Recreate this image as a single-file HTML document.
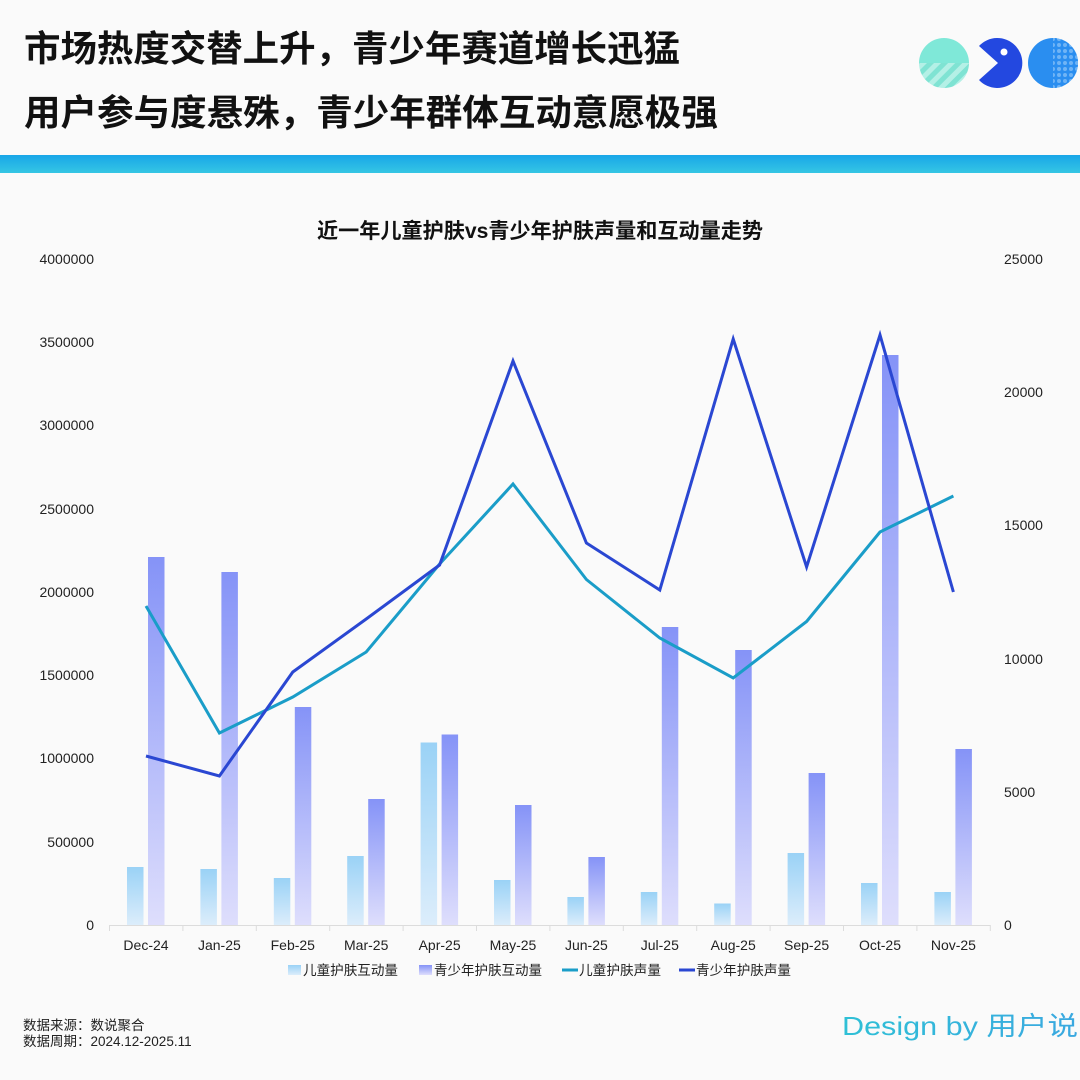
<!DOCTYPE html>
<html><head><meta charset="utf-8"><style>
html,body{margin:0;padding:0;background:#fafafa;}
svg{display:block;}
</style></head><body>
<svg width="1080" height="1080" viewBox="0 0 1080 1080" xmlns="http://www.w3.org/2000/svg">
<defs>
<linearGradient id="hb" x1="0" y1="0" x2="0" y2="1"><stop offset="0" stop-color="#18a6e8"/><stop offset="1" stop-color="#35c6e4"/></linearGradient>
<linearGradient id="lb" x1="0" y1="0" x2="0" y2="1"><stop offset="0" stop-color="#9ad2f6"/><stop offset="1" stop-color="#dcedfb"/></linearGradient>
<linearGradient id="pb" x1="0" y1="0" x2="0" y2="1"><stop offset="0" stop-color="#8593f7"/><stop offset="1" stop-color="#dedefc"/></linearGradient>
<linearGradient id="ds" x1="0" y1="0" x2="1" y2="0"><stop offset="0" stop-color="#2fc0d6"/><stop offset="1" stop-color="#3aa8e0"/></linearGradient>
<pattern id="stripe" width="10" height="10" patternUnits="userSpaceOnUse" patternTransform="rotate(45)"><rect width="10" height="10" fill="#b4f0e6"/><rect width="5" height="10" fill="#7fe3d3"/></pattern>
<pattern id="dots" width="6" height="6" patternUnits="userSpaceOnUse"><rect width="6" height="6" fill="#2a8ef0"/><circle cx="3" cy="3" r="2" fill="#6fb4f6"/></pattern>
<clipPath id="c1"><circle cx="944" cy="63" r="25"/></clipPath>
<clipPath id="c3"><circle cx="1053" cy="63" r="25"/></clipPath>
</defs>
<rect width="1080" height="1080" fill="#fafafa"/>

<!-- header -->
<g font-family="'Liberation Sans','Noto Sans CJK SC',sans-serif" font-weight="700" font-size="36" fill="#111">
<text x="24" y="61" textLength="656" lengthAdjust="spacingAndGlyphs">市场热度交替上升，青少年赛道增长迅猛</text>
<text x="24" y="125" textLength="694" lengthAdjust="spacingAndGlyphs">用户参与度悬殊，青少年群体互动意愿极强</text>
</g>
<!-- icons -->
<g clip-path="url(#c1)"><rect x="919" y="38" width="50" height="25" fill="#7fe8d8"/><rect x="919" y="63" width="50" height="25" fill="url(#stripe)"/></g>
<path d="M998 63 L979 46 A25 25 0 1 1 979 80 Z" fill="#2348e0"/>
<circle cx="1004" cy="52" r="3.5" fill="#fff"/>
<g clip-path="url(#c3)"><rect x="1028" y="38" width="50" height="50" fill="#2a8ef0"/><rect x="1053" y="38" width="26" height="50" fill="url(#dots)"/></g>

<rect x="0" y="155" width="1080" height="18" fill="url(#hb)"/>

<!-- chart title -->
<text x="540" y="238" text-anchor="middle" font-family="'Liberation Sans','Noto Sans CJK SC',sans-serif" font-weight="700" font-size="21" fill="#111" textLength="446" lengthAdjust="spacingAndGlyphs">近一年儿童护肤vs青少年护肤声量和互动量走势</text>

<!-- y labels -->
<g font-family="'Liberation Sans',sans-serif" font-size="14" fill="#222" text-anchor="end">
<text x="94" y="930">0</text>
<text x="94" y="847">500000</text>
<text x="94" y="763">1000000</text>
<text x="94" y="680">1500000</text>
<text x="94" y="597">2000000</text>
<text x="94" y="514">2500000</text>
<text x="94" y="430">3000000</text>
<text x="94" y="347">3500000</text>
<text x="94" y="264">4000000</text>
</g>
<g font-family="'Liberation Sans',sans-serif" font-size="14" fill="#222" text-anchor="start">
<text x="1004" y="930">0</text>
<text x="1004" y="797">5000</text>
<text x="1004" y="664">10000</text>
<text x="1004" y="530">15000</text>
<text x="1004" y="397">20000</text>
<text x="1004" y="264">25000</text>
</g>

<!-- bars -->
<g fill="url(#lb)">
<rect x="127" y="867" width="16.5" height="58"/>
<rect x="200.4" y="869" width="16.5" height="56"/>
<rect x="273.8" y="878" width="16.5" height="47"/>
<rect x="347.2" y="856" width="16.5" height="69"/>
<rect x="420.6" y="742.5" width="16.5" height="182.5"/>
<rect x="494" y="880" width="16.5" height="45"/>
<rect x="567.4" y="897" width="16.5" height="28"/>
<rect x="640.8" y="892" width="16.5" height="33"/>
<rect x="714.2" y="903.5" width="16.5" height="21.5"/>
<rect x="787.6" y="853" width="16.5" height="72"/>
<rect x="861" y="883" width="16.5" height="42"/>
<rect x="934.4" y="892" width="16.5" height="33"/>
</g>
<g fill="url(#pb)">
<rect x="148" y="557" width="16.5" height="368"/>
<rect x="221.4" y="572" width="16.5" height="353"/>
<rect x="294.8" y="707" width="16.5" height="218"/>
<rect x="368.2" y="799" width="16.5" height="126"/>
<rect x="441.6" y="734.5" width="16.5" height="190.5"/>
<rect x="515" y="805" width="16.5" height="120"/>
<rect x="588.4" y="857" width="16.5" height="68"/>
<rect x="661.8" y="627" width="16.5" height="298"/>
<rect x="735.2" y="650" width="16.5" height="275"/>
<rect x="808.6" y="773" width="16.5" height="152"/>
<rect x="882" y="355" width="16.5" height="570"/>
<rect x="955.4" y="749" width="16.5" height="176"/>
</g>

<!-- x axis -->
<g stroke="#dcdcdc" stroke-width="1">
<line x1="109" y1="925.5" x2="990" y2="925.5"/>
<line x1="109.5" y1="925" x2="109.5" y2="931"/>
<line x1="182.9" y1="925" x2="182.9" y2="931"/>
<line x1="256.3" y1="925" x2="256.3" y2="931"/>
<line x1="329.7" y1="925" x2="329.7" y2="931"/>
<line x1="403.1" y1="925" x2="403.1" y2="931"/>
<line x1="476.5" y1="925" x2="476.5" y2="931"/>
<line x1="549.9" y1="925" x2="549.9" y2="931"/>
<line x1="623.3" y1="925" x2="623.3" y2="931"/>
<line x1="696.7" y1="925" x2="696.7" y2="931"/>
<line x1="770.1" y1="925" x2="770.1" y2="931"/>
<line x1="843.5" y1="925" x2="843.5" y2="931"/>
<line x1="916.9" y1="925" x2="916.9" y2="931"/>
<line x1="990.3" y1="925" x2="990.3" y2="931"/>
</g>

<!-- lines -->
<polyline fill="none" stroke="#1a9dc8" stroke-width="3" stroke-linejoin="miter" points="146,606 219.4,733 292.8,697 366.2,652 439.6,564 513,484 586.4,579.5 659.8,638 733.2,678 806.6,621.5 880,532 953.4,496"/>
<polyline fill="none" stroke="#2a47d2" stroke-width="3" stroke-linejoin="miter" points="146,756 219.4,776 292.8,672 366.2,619 439.6,565 513,361 586.4,543 659.8,590 733.2,339 806.6,567 880,335 953.4,592"/>

<!-- x labels -->
<g font-family="'Liberation Sans',sans-serif" font-size="14" fill="#222" text-anchor="middle">
<text x="146" y="950">Dec-24</text>
<text x="219.4" y="950">Jan-25</text>
<text x="292.8" y="950">Feb-25</text>
<text x="366.2" y="950">Mar-25</text>
<text x="439.6" y="950">Apr-25</text>
<text x="513" y="950">May-25</text>
<text x="586.4" y="950">Jun-25</text>
<text x="659.8" y="950">Jul-25</text>
<text x="733.2" y="950">Aug-25</text>
<text x="806.6" y="950">Sep-25</text>
<text x="880" y="950">Oct-25</text>
<text x="953.4" y="950">Nov-25</text>
</g>

<!-- legend -->
<rect x="288" y="965" width="13" height="10" fill="url(#lb)"/>
<rect x="419" y="965" width="13" height="10" fill="url(#pb)"/>
<line x1="562" y1="970" x2="578" y2="970" stroke="#1a9dc8" stroke-width="3"/>
<line x1="679" y1="970" x2="695" y2="970" stroke="#2a47d2" stroke-width="3"/>
<g font-family="'Liberation Sans','Noto Sans CJK SC',sans-serif" font-size="13.5" fill="#222">
<text x="303" y="975" textLength="95" lengthAdjust="spacingAndGlyphs">儿童护肤互动量</text>
<text x="434" y="975" textLength="108" lengthAdjust="spacingAndGlyphs">青少年护肤互动量</text>
<text x="579" y="975" textLength="82" lengthAdjust="spacingAndGlyphs">儿童护肤声量</text>
<text x="696" y="975" textLength="95" lengthAdjust="spacingAndGlyphs">青少年护肤声量</text>
</g>

<!-- footer -->
<g font-family="'Liberation Sans','Noto Sans CJK SC',sans-serif" font-size="13.5" fill="#222">
<text x="23" y="1030">数据来源：数说聚合</text>
<text x="23" y="1046">数据周期：2024.12-2025.11</text>
</g>
<text x="842" y="1035" font-family="'Liberation Sans','Noto Sans CJK SC',sans-serif" font-size="26" fill="url(#ds)" textLength="236" lengthAdjust="spacingAndGlyphs">Design by 用户说</text>
</svg>
</body></html>
